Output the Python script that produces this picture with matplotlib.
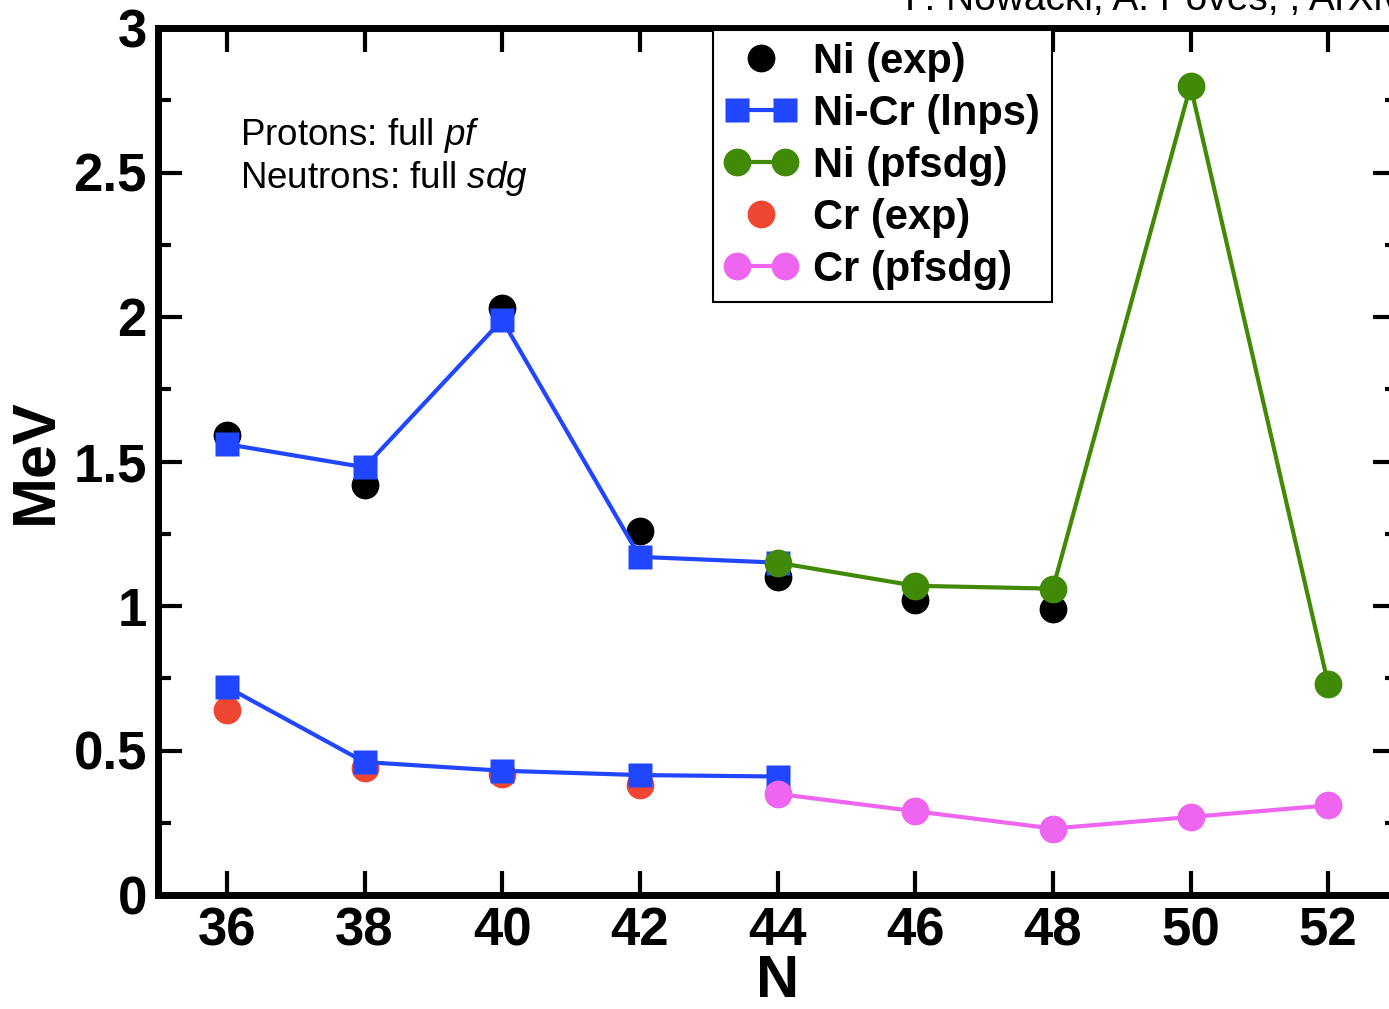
import matplotlib
matplotlib.use("Agg")
import matplotlib.pyplot as plt
from matplotlib.ticker import MultipleLocator
from matplotlib.legend_handler import HandlerLine2D

# ---- data ----
n_exp_ni = [36, 38, 40, 42, 44, 46, 48]
e_exp_ni = [1.59, 1.42, 2.03, 1.26, 1.10, 1.02, 0.99]

n_lnps = [36, 38, 40, 42, 44]
e_lnps_ni = [1.56, 1.48, 1.99, 1.17, 1.15]
e_lnps_cr = [0.72, 0.46, 0.43, 0.415, 0.41]

n_pfsdg = [44, 46, 48, 50, 52]
e_pfsdg_ni = [1.15, 1.07, 1.06, 2.80, 0.73]
e_pfsdg_cr = [0.35, 0.29, 0.23, 0.27, 0.31]

n_exp_cr = [36, 38, 40, 42]
e_exp_cr = [0.64, 0.44, 0.42, 0.38]

xticks = [36, 38, 40, 42, 44, 46, 48, 50, 52]
yticks = [0, 0.5, 1, 1.5, 2, 2.5, 3]
ytick_labels = ["0", "0.5", "1", "1.5", "2", "2.5", "3"]

BLUE = "#2146ff"
GREEN = "#418a07"
RED = "#ee4630"
VIOLET = "#ee66f0"

plt.rcParams['font.family'] = ['Liberation Sans', 'DejaVu Sans']
plt.rcParams['mathtext.fontset'] = 'custom'
plt.rcParams['mathtext.rm'] = 'Liberation Sans'
plt.rcParams['mathtext.it'] = 'Liberation Sans:italic'

fig = plt.figure(figsize=(13.89, 10.09), dpi=100)
ax = fig.add_axes([158/1389, 114/1009, 1239/1389, 867/1009])

ms_c = 20
ms_s = 17
lw = 3

h_niexp, = ax.plot(n_exp_ni, e_exp_ni, 'o', color='black', ms=ms_c, mec='none', zorder=3)
h_crexp, = ax.plot(n_exp_cr, e_exp_cr, 'o', color=RED, ms=ms_c, mec='none', zorder=3)
h_lnps, = ax.plot(n_lnps, e_lnps_ni, '-s', color=BLUE, ms=ms_s, lw=lw, mec='none', zorder=4)
ax.plot(n_lnps, e_lnps_cr, '-s', color=BLUE, ms=ms_s, lw=lw, mec='none', zorder=4)
h_nipf, = ax.plot(n_pfsdg, e_pfsdg_ni, '-o', color=GREEN, ms=ms_c, lw=lw, mec='none', zorder=5)
h_crpf, = ax.plot(n_pfsdg, e_pfsdg_cr, '-o', color=VIOLET, ms=ms_c, lw=lw, mec='none', zorder=5)

ax.set_xlim(35, 53)
ax.set_ylim(0, 3)
ax.set_xticks(xticks)
ax.set_xticklabels([str(x) for x in xticks])
ax.set_yticks(yticks)
ax.set_yticklabels(ytick_labels)
ax.yaxis.set_minor_locator(MultipleLocator(0.25))

for s in ax.spines.values():
    s.set_linewidth(5)

ax.tick_params(axis='both', which='major', direction='in', length=17, width=3,
               top=True, right=True, pad=8)
ax.tick_params(axis='y', which='minor', direction='in', length=9, width=3, right=True)
for lab in ax.get_xticklabels() + ax.get_yticklabels():
    lab.set_fontweight('bold')
    lab.set_fontsize(38)

ax.set_xlabel('N', fontsize=43, fontweight='bold')
ax.set_ylabel('MeV', fontsize=44, fontweight='bold')
ax.xaxis.set_label_coords(0.5, (895-954)/867)
ax.yaxis.set_label_coords((64-158)/1239, 0.5)

labels = ['Ni (exp)', 'Ni-Cr (lnps)', 'Ni (pfsdg)', 'Cr (exp)', 'Cr (pfsdg)']
handles = [h_niexp, h_lnps, h_nipf, h_crexp, h_crpf]
leg = ax.legend(handles, labels, loc='upper left',
                bbox_to_anchor=((713-158)/1239, (895-30)/867), borderaxespad=0,
                fancybox=False, edgecolor='black', framealpha=1,
                prop={'family': 'Liberation Sans', 'weight': 'bold', 'size': 30},
                handlelength=1.75, handletextpad=0.38, labelspacing=0.29,
                borderpad=0.28, numpoints=2,
                handler_map={h_niexp: HandlerLine2D(numpoints=1),
                             h_crexp: HandlerLine2D(numpoints=1)})
leg.get_frame().set_linewidth(1.5)

ax.text((240-158)/1239, (895-145)/867, 'Protons: full $\\mathit{pf}$', transform=ax.transAxes,
        fontsize=26.5, va='baseline', ha='left')
ax.text((240-158)/1239, (895-188)/867, 'Neutrons: full $\\mathit{sdg}$', transform=ax.transAxes,
        fontsize=26.5, va='baseline', ha='left')

fig.text(905/1389, 1 - 10/1009, 'F. Nowacki, A. Poves, , ArXiv', fontsize=28,
         va='baseline', ha='left')

fig.savefig('out.png', dpi=100)
